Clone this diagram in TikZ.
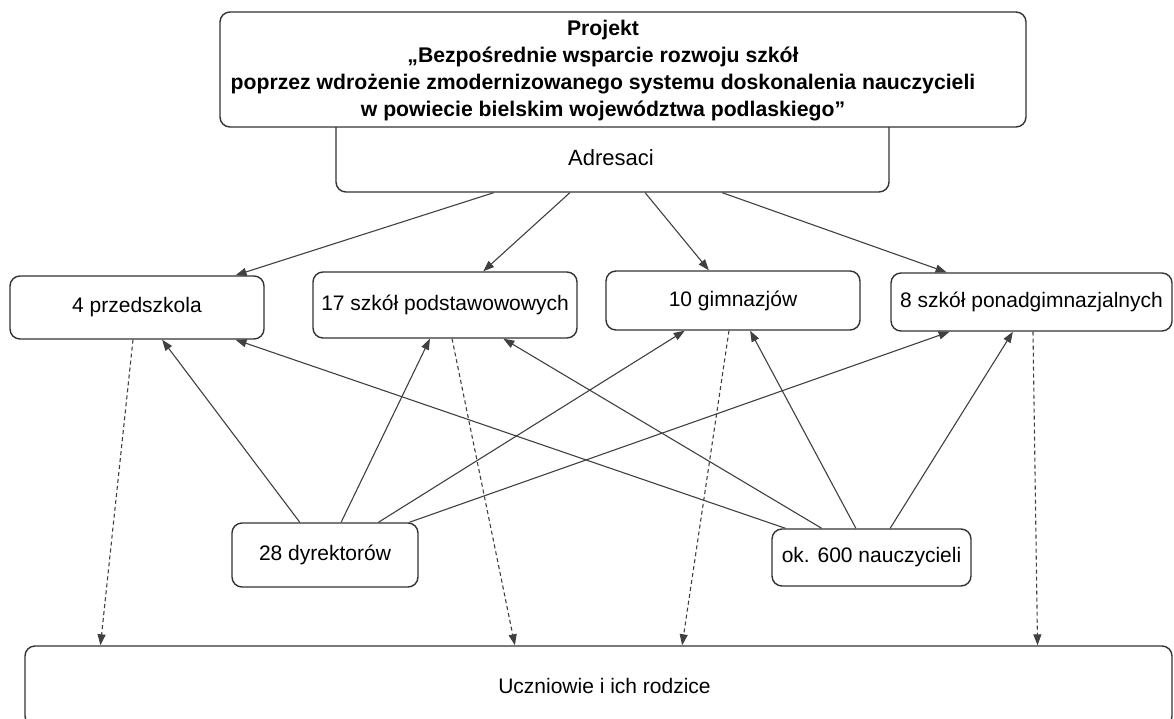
\documentclass[tikz,border=0pt]{standalone}
\usepackage{fontspec}
\setmainfont{Liberation Sans}
\usetikzlibrary{calc,arrows.meta}
\definecolor{edge}{HTML}{404040}
\definecolor{frame}{HTML}{333333}
\begin{document}
\begin{tikzpicture}[x=1pt,y=-1pt,
  box/.style={draw=frame,line width=1.4pt,rounded corners=10pt,fill=white,inner sep=0pt,
    font=\fontsize{21}{25}\selectfont,text=black},
  arr/.style={draw=edge,line width=1.1pt,-{Triangle[length=11pt,width=8pt]}},
  darr/.style={arr,dash pattern=on 4pt off 3pt}]
\useasboundingbox (0,0) rectangle (1174,719);
% Adresaci (behind top box)
\node[box,minimum width=553pt,minimum height=92pt,
  label={[font=\fontsize{22}{26}\selectfont,xshift=-1.5pt,yshift=-12pt]center:Adresaci}] (adr) at (612.5,146) {};
% top project box
\node[box,minimum width=806pt,minimum height=115pt,
  label={[font=\bfseries\fontsize{21.2}{26.8}\selectfont,align=center,xshift=-20pt,yshift=-1pt]center:
  Projekt\\„Bezpośrednie wsparcie rozwoju szkół\\poprzez wdrożenie zmodernizowanego systemu doskonalenia nauczycieli\\w powiecie bielskim województwa podlaskiego”}] (top) at (623,69.5) {};
% row of schools
\node[box,minimum width=254pt,minimum height=63pt] (p4) at (137,307.5) {4 przedszkola};
\node[box,minimum width=264pt,minimum height=66pt] (p17) at (445,305) {17 szkół podstawowowych};
\node[box,minimum width=254pt,minimum height=59pt] (g10) at (733,300.5) {10 gimnazjów};
\node[box,minimum width=281pt,minimum height=58pt] (s8) at (1031.5,302) {8 szkół ponadgimnazjalnych};
% people
\node[box,minimum width=186pt,minimum height=64pt] (dyr) at (325,555) {28 dyrektorów};
\node[box,minimum width=199pt,minimum height=57pt] (nau) at (871.5,557.5) {ok. 600 nauczycieli};
% bottom
\node[box,minimum width=1147pt,minimum height=80pt,
  label={[font=\fontsize{21}{25}\selectfont,xshift=6pt]center:Uczniowie i ich rodzice}] (bot) at (598.5,686) {};
% Adresaci -> schools
\draw[arr] ($(adr.south west)!0.2857!(adr.south east)$) -- ($(p4.north west)!0.8858!(p4.north east)$);
\draw[arr] ($(adr.south west)!0.4231!(adr.south east)$) -- ($(p17.north west)!0.6439!(p17.north east)$);
\draw[arr] ($(adr.south west)!0.5588!(adr.south east)$) -- ($(g10.north west)!0.4055!(g10.north east)$);
\draw[arr] ($(adr.south west)!0.6980!(adr.south east)$) -- ($(s8.north west)!0.1993!(s8.north east)$);
% dyrektorzy -> schools
\draw[arr] ($(dyr.north west)!0.3656!(dyr.north east)$) -- ($(p4.south west)!0.5984!(p4.south east)$);
\draw[arr] ($(dyr.north west)!0.586!(dyr.north east)$) -- ($(p17.south west)!0.4432!(p17.south east)$);
\draw[arr] ($(dyr.north west)!0.785!(dyr.north east)$) -- ($(g10.south west)!0.311!(g10.south east)$);
\draw[arr] ($(dyr.north west)!0.95!(dyr.north east)$) -- ($(s8.south west)!0.21!(s8.south east)$);
% nauczyciele -> schools
\draw[arr] ($(nau.north west)!0.0704!(nau.north east)$) -- ($(p4.south west)!0.8858!(p4.south east)$);
\draw[arr] ($(nau.north west)!0.2513!(nau.north east)$) -- ($(p17.south west)!0.7197!(p17.south east)$);
\draw[arr] ($(nau.north west)!0.4221!(nau.north east)$) -- ($(g10.south west)!0.567!(g10.south east)$);
\draw[arr] ($(nau.north west)!0.593!(nau.north east)$) -- ($(s8.south west)!0.434!(s8.south east)$);
% schools -> pupils (dashed)
\draw[darr] ($(p4.south west)!0.4843!(p4.south east)$) -- ($(bot.north west)!0.0663!(bot.north east)$);
\draw[darr] ($(p17.south west)!0.5265!(p17.south east)$) -- ($(bot.north west)!0.4272!(bot.north east)$);
\draw[darr] ($(g10.south west)!0.4843!(g10.south east)$) -- ($(bot.north west)!0.5728!(bot.north east)$);
\draw[darr] ($(s8.south west)!0.5053!(s8.south east)$) -- ($(bot.north west)!0.8823!(bot.north east)$);
\end{tikzpicture}
\end{document}
